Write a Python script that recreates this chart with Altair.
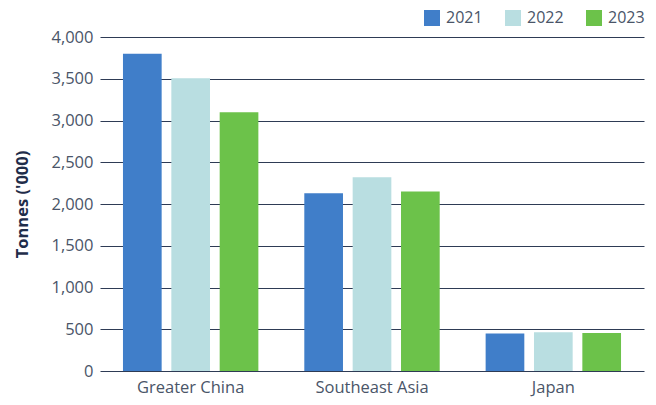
import altair as alt
import pandas as pd

regions = ["Greater China", "Southeast Asia", "Japan"]
years = ["2021", "2022", "2023"]
v2021 = [3800, 2130, 450]
v2022 = [3505, 2320, 465]
v2023 = [3100, 2150, 455]
colors = ["#407ec9", "#b9dee1", "#6cc24a"]

rows = []
for i, r in enumerate(regions):
    for y, vals in zip(years, [v2021, v2022, v2023]):
        rows.append({"region": r, "year": y, "value": vals[i]})
df = pd.DataFrame(rows)

font = "Open Sans"

chart = alt.Chart(df).mark_bar().encode(
    x=alt.X("region:N", sort=regions, title=None,
            scale=alt.Scale(paddingInner=0.2, paddingOuter=0.1),
            axis=alt.Axis(labelAngle=0, labelFontSize=16.5, labelColor="#4a5568",
                          labelFont=font, labelPadding=8, ticks=False, domain=False)),
    xOffset=alt.XOffset("year:N", sort=years,
                        scale=alt.Scale(paddingInner=0.2, paddingOuter=0.1)),
    y=alt.Y("value:Q", title="Tonnes ('000)",
            scale=alt.Scale(domain=[0, 4000]),
            axis=alt.Axis(values=[0, 500, 1000, 1500, 2000, 2500, 3000, 3500, 4000],
                          format=",d", labelFontSize=16.5, labelColor="#4a5568",
                          labelFont=font, labelPadding=7, ticks=False, domain=False,
                          grid=True, gridColor="#2e3b55", gridWidth=1,
                          titleFont=font, titleFontSize=16.5, titleFontWeight="bold",
                          titleColor="#1f2d4a", titleX=-70, titleY=167)),
    color=alt.Color("year:N", sort=years,
                    scale=alt.Scale(domain=years, range=colors),
                    legend=alt.Legend(title=None, orient="none", direction="horizontal",
                                      legendX=324, legendY=-27, symbolType="square",
                                      symbolSize=256, symbolStrokeWidth=0,
                                      labelFontSize=16, labelFont=font,
                                      labelColor="#4a5568", labelOffset=6,
                                      columnPadding=22, padding=0)),
).properties(
    width=544, height=334,
    autosize=alt.AutoSizeParams(type="none"),
    padding={"left": 92, "top": 29, "right": 4, "bottom": 26},
).configure_view(stroke=None)

chart.save("out.html", embed_options={"renderer": "svg", "actions": False})
